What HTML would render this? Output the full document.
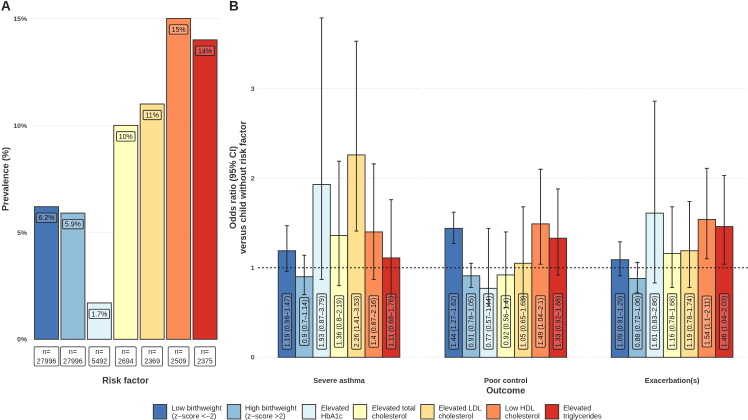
<!DOCTYPE html>
<html>
<head>
<meta charset="utf-8">
<style>
html,body{margin:0;padding:0;background:#fff;}
svg{display:block;font-family:"Liberation Sans",sans-serif;}
</style>
</head>
<body>
<svg id="chart" xmlns="http://www.w3.org/2000/svg" width="748" height="420" viewBox="0 0 748 420">
  <text x="1" y="10.5" font-size="13.5" font-weight="bold" fill="#222">A</text>
  <text x="229" y="10.5" font-size="13.5" font-weight="bold" fill="#222">B</text>
  <g id="gridA"></g>
  <g id="gridB"></g>
  <g id="barsA"></g>
  <g id="barsB"></g>
  <g id="legend"></g>
  <text x="125.5" y="383.5" text-anchor="middle" font-size="9" font-weight="bold" fill="#333">Risk factor</text>
  <text transform="translate(8.5,179) rotate(-90)" text-anchor="middle" font-size="9" font-weight="bold" fill="#333">Prevalence (%)</text>
  <text transform="translate(236,187.5) rotate(-90)" text-anchor="middle" font-size="9" font-weight="bold" fill="#333">Odds ratio (95% CI)</text>
  <text transform="translate(246,187.5) rotate(-90)" text-anchor="middle" font-size="9" font-weight="bold" fill="#333">versus child without risk factor</text>
  <text x="505.7" y="393.5" text-anchor="middle" font-size="9" font-weight="bold" fill="#333">Outcome</text>
</svg>
<script>
var colors = ["#4575b4","#91bfdb","#e0f3f8","#ffffbf","#fee090","#fc8d59","#d73027"];
var riskLegendLine1 = ["Low birthweight","High birthweight","Elevated","Elevated total","Elevated LDL","Low HDL","Elevated"];
var riskLegendLine2 = ["(z\u2212score <\u22122)","(z\u2212score >2)","HbA1c","cholesterol","cholesterol","cholesterol","triglycerides"];
var prevalence = [6.2,5.9,1.7,10,11,15,14];
var prevalenceLabels = ["6.2%","5.9%","1.7%","10%","11%","15%","14%"];
var sampleSizes = ["27996","27996","5492","2694","2369","2509","2375"];
var prevalenceTicks = [0,5,10,15];
var oddsTicks = [0,1,2,3];
var outcomes = ["Severe asthma","Poor control","Exacerbation(s)"];
var severeOR = [1.19,0.9,1.93,1.36,2.26,1.4,1.11];
var severeLow = [0.96,0.7,0.87,0.8,1.41,0.87,0.68];
var severeHigh = [1.47,1.14,3.79,2.19,3.53,2.16,1.76];
var poorOR = [1.44,0.91,0.77,0.92,1.05,1.49,1.33];
var poorLow = [1.27,0.78,0.57,0.56,0.65,1.04,0.92];
var poorHigh = [1.62,1.05,1.44,1.4,1.68,2.1,1.88];
var exacOR = [1.09,0.88,1.61,1.16,1.19,1.54,1.46];
var exacLow = [0.91,0.72,0.83,0.78,0.78,1.1,1.04];
var exacHigh = [1.29,1.06,2.86,1.68,1.74,2.11,2.03];

var NS = "http://www.w3.org/2000/svg";
var INK = "#333";
function yA(v){ return 339.3 - v * 21.39; }
function xA(i){ return 46.5 + i * 26.42; }
function yB(v){ return 357.3 - v * 89.55; }
var facetCenters = [339, 505.8, 672.1];
var facetSpans = [[258,421.5],[424,587.5],[590,747]];
function xB(g,i){ return facetCenters[g] + (i - 3) * 17.37; }

function make(tag, parent, attrs, txt){
  var el = document.createElementNS(NS, tag);
  for (var k in attrs) el.setAttribute(k, attrs[k]);
  if (txt !== undefined) el.textContent = txt;
  parent.appendChild(el);
  return el;
}
function tw(el){ return el.getComputedTextLength(); }

var gridA = document.getElementById("gridA");
var gridB = document.getElementById("gridB");
var barsA = document.getElementById("barsA");
var barsB = document.getElementById("barsB");
var legend = document.getElementById("legend");

/* Panel A axes */
prevalenceTicks.forEach(function(t){
  var ln = make("line", gridA, {x1:30,x2:220,y1:yA(t),y2:yA(t),stroke:"#f0f0f0","stroke-width":0.8});
  
  
  var lb = make("text", gridA, {x:27,y:yA(t)+2.4,"text-anchor":"end","font-size":6.8,"font-weight":"bold",fill:"#444"}, t + "%");
  
  
});

/* Panel B axes */
facetSpans.forEach(function(s){
  oddsTicks.forEach(function(t){
    var ln = make("line", gridB, {x1:s[0],x2:s[1],y1:yB(t),y2:yB(t),stroke:"#f0f0f0","stroke-width":0.8});
    
    
  });
});
oddsTicks.forEach(function(t){
  var lb = make("text", gridB, {x:254.5,y:yB(t)+2.4,"text-anchor":"end","font-size":6.8,"font-weight":"bold",fill:"#444"}, String(t));
  
  
});

/* Panel A bars */
prevalence.forEach(function(v,i){
  var cx = xA(i), top = yA(v);
  var bar = make("rect", barsA, {x:cx-12,y:top,width:24,height:yA(0)-top,fill:colors[i],stroke:INK,"stroke-width":0.9});
  
  
  var cy = top + 11;
  var box = make("rect", barsA, {y:cy-4.7,height:9.4,rx:1.2,fill:"rgba(255,255,255,0.2)",stroke:"#222","stroke-width":0.8});
  
  
  var tx = make("text", barsA, {x:cx,y:cy+2.5,"text-anchor":"middle","font-size":7,fill:"#111"}, prevalenceLabels[i]);
  
  
  var w = tw(tx) + 4.6;
  box.setAttribute("x", cx - w/2);
  box.setAttribute("width", w);

  var nbox = make("rect", barsA, {y:346.8,height:19.2,rx:1.2,fill:"#fff",stroke:"#444","stroke-width":0.8});
  
  
  var n1 = make("text", barsA, {x:cx,y:354,"text-anchor":"middle","font-size":7,fill:"#222"}, "n=");
  
  
  var n2 = make("text", barsA, {x:cx,y:363.5,"text-anchor":"middle","font-size":7,fill:"#222"}, sampleSizes[i]);
  
  
  var nw = tw(n2) + 5.2;
  nbox.setAttribute("x", cx - nw/2);
  nbox.setAttribute("width", nw);
});

/* Panel B bars */
var orSeries = [severeOR, poorOR, exacOR];
var lowSeries = [severeLow, poorLow, exacLow];
var highSeries = [severeHigh, poorHigh, exacHigh];
outcomes.forEach(function(name,g){
  orSeries[g].forEach(function(v,i){
    var cx = xB(g,i), top = yB(v);
    var bar = make("rect", barsB, {x:cx-8.68,y:top,width:17.37,height:yB(0)-top,fill:colors[i],stroke:INK,"stroke-width":0.9});
    
    
  });
});
var ref = make("line", barsB, {x1:258,x2:748,y1:yB(1),y2:yB(1),stroke:"#222","stroke-width":0.9,"stroke-dasharray":"2 2"});


outcomes.forEach(function(name,g){
  orSeries[g].forEach(function(v,i){
    var cx = xB(g,i), lo = lowSeries[g][i], hi = highSeries[g][i];
    var whisk = make("path", barsB, {d:"M"+cx+" "+yB(lo)+"V"+yB(hi)+"M"+(cx-2)+" "+yB(lo)+"H"+(cx+2)+"M"+(cx-2)+" "+yB(hi)+"H"+(cx+2),fill:"none",stroke:"#222","stroke-width":0.9});
    
    
    var cy = 321.5;
    var box = make("rect", barsB, {x:cx-4.7,width:9.4,rx:1.2,fill:"rgba(255,255,255,0.2)",stroke:"#222","stroke-width":0.8});
    
    
    var tx = make("text", barsB, {transform:"translate("+(cx+2.5)+","+cy+") rotate(-90)","text-anchor":"middle","font-size":7,fill:"#111"}, v+" ("+lo+"\u2013"+hi+")");
    
    
    var h = tw(tx) + 4;
    box.setAttribute("y", cy - h/2);
    box.setAttribute("height", h);
  });
  var ol = make("text", barsB, {x:facetCenters[g],y:383,"text-anchor":"middle","font-size":7.3,"font-weight":"bold",fill:"#333"}, name);
  
  
});

/* Legend */
var swatchX = [153.3,227.3,302.3,353.3,420.7,486.7,545.3];
var legendTextX = [171.7,245,321,372,438.5,505,563.3];
riskLegendLine1.forEach(function(t,i){
  var sw = make("rect", legend, {x:swatchX[i],y:404.5,width:13.4,height:14.5,fill:colors[i],stroke:INK,"stroke-width":0.9});
  
  
  var a = make("text", legend, {x:legendTextX[i],y:410.6,"font-size":7.2,fill:"#222"}, t);
  
  
  var b = make("text", legend, {x:legendTextX[i],y:418.4,"font-size":7.2,fill:"#222"}, riskLegendLine2[i]);
  
  
});
</script>
</body>
</html>
